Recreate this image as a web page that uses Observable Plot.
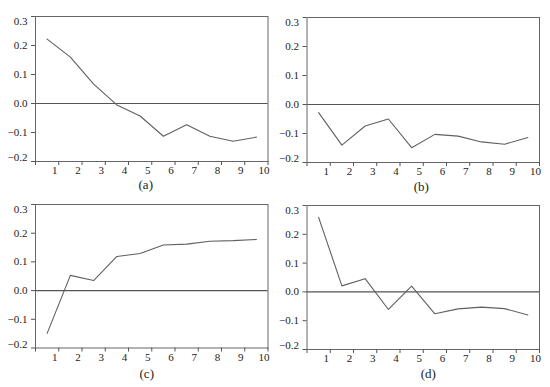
<!DOCTYPE html>
<html><head><meta charset="utf-8">
<script src="https://cdn.jsdelivr.net/npm/d3@7"></script>
<script src="https://cdn.jsdelivr.net/npm/@observablehq/plot@0.6"></script>
<style>
html,body{margin:0;padding:0;background:#fff;}
#chart{position:relative;width:550px;height:387px;overflow:hidden;background:#fff;}
#chart .panel{position:absolute;}
</style></head><body><div id="chart"></div>
<script>
// ---- data ----
const periods = [1, 2, 3, 4, 5, 6, 7, 8, 9, 10];
const seriesA = [0.222, 0.160, 0.067, -0.005, -0.043, -0.113, -0.073, -0.113, -0.130, -0.116];
const seriesB = [-0.028, -0.140, -0.074, -0.050, -0.149, -0.103, -0.109, -0.129, -0.137, -0.114];
const seriesC = [-0.149, 0.053, 0.035, 0.119, 0.129, 0.159, 0.162, 0.172, 0.174, 0.178];
const seriesD = [0.259, 0.021, 0.046, -0.061, 0.020, -0.076, -0.059, -0.053, -0.058, -0.080];
const xTicks = [0, 1, 2, 3, 4, 5, 6, 7, 8, 9, 10];
const xLabels = ["1", "2", "3", "4", "5", "6", "7", "8", "9", "10"];
const yTicks = [-0.2, -0.1, 0.0, 0.1, 0.2, 0.3];
const captions = ["(a)", "(b)", "(c)", "(d)"];

// ---- layout (style only) ----
const layout = [
  {left: 0,   top: 0,   width: 275, height: 195, ml: 35,   mr: 7.5, mt: 16, mb: 34,   capDx: -6, capDy: 27},
  {left: 275, top: 0,   width: 275, height: 195, ml: 31.5, mr: 11,  mt: 17, mb: 33,   capDx: -2, capDy: 28},
  {left: 0,   top: 190, width: 275, height: 197, ml: 35,   mr: 7.5, mt: 14, mb: 39.5, capDx: -5, capDy: 30},
  {left: 275, top: 190, width: 275, height: 197, ml: 31.5, mr: 11,  mt: 15, mb: 38,   capDx: 5,  capDy: 28}
];
const seriesList = [seriesA, seriesB, seriesC, seriesD];
const fmt = d3.format(".1f");
const yMax = d3.max(yTicks), yMin = d3.min(yTicks);
const labelShift = t => t === yMax ? 5 : t === yMin ? -4 : 0;

const chart = document.getElementById("chart");
seriesList.forEach((values, i) => {
  const L = layout[i];
  const rows = periods.map((p, j) => ({period: p, value: values[j]}));
  const svg = Plot.plot({
    width: L.width, height: L.height,
    marginLeft: L.ml, marginRight: L.mr, marginTop: L.mt, marginBottom: L.mb,
    style: {fontFamily: "'Liberation Serif', 'Times New Roman', serif", fontSize: "11px", background: "transparent", color: "#222"},
    x: {domain: [d3.min(xTicks), d3.max(xTicks)], label: null},
    y: {domain: [yMin, yMax], label: null},
    marks: [
      Plot.frame({stroke: "#666"}),
      Plot.ruleY([0], {stroke: "#555", strokeWidth: 1.2}),
      Plot.line(rows, {x: d => d.period - 0.5, y: "value", stroke: "#606060", strokeWidth: 1.1}),
      // x ticks (lines only) and labels
      Plot.axisX(xTicks, {tickSize: 4, fill: "none", stroke: "#555", label: null}),
      Plot.axisX(periods, {tickSize: 0, tickPadding: 5, dx: -4, fill: "#222", label: null,
        tickFormat: d => xLabels[periods.indexOf(d)]}),
      // y ticks (lines only) and labels
      Plot.axisY(yTicks, {tickSize: 4, fill: "none", stroke: "#555", label: null}),
      ...yTicks.map(t => Plot.axisY([t], {tickSize: 0, tickPadding: 8, dy: labelShift(t), fill: "#222", label: null, tickFormat: fmt})),
      Plot.text([captions[i]], {text: d => d, frameAnchor: "bottom", dx: L.capDx, dy: L.capDy, fontSize: 13, fill: "#222"})
    ]
  });
  svg.classList.add("panel");
  svg.style.left = L.left + "px";
  svg.style.top = L.top + "px";
  chart.appendChild(svg);
});
</script>
</body></html>
